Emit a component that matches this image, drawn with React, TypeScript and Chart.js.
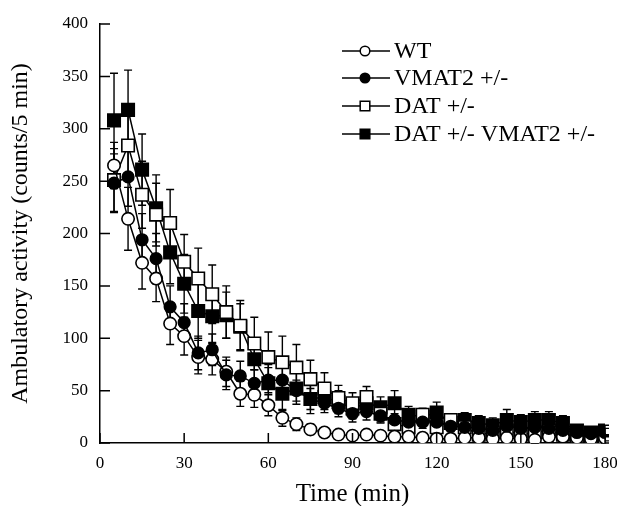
import React, { useEffect, useRef } from 'react';
import { Chart, registerables } from 'chart.js';

Chart.register(...registerables);

const TIMES = [5, 10, 15, 20, 25, 30, 35, 40, 45, 50, 55, 60, 65, 70, 75, 80, 85, 90,
  95, 100, 105, 110, 115, 120, 125, 130, 135, 140, 145, 150, 155, 160, 165, 170, 175, 180];

const WT = [265, 214, 172, 157, 114, 102, 82, 80, 68, 47, 46, 36, 24, 18, 13, 10, 8, 7,
  8, 7, 6, 6, 5, 4, 4, 5, 5, 4, 5, 4, 3, 6, 6, 5, 4, 5];
const WT_ERR = [22, 30, 25, 22, 20, 18, 16, 15, 14, 12, 12, 10, 8, 6, 5, 4, 3, 3,
  3, 3, 3, 3, 3, 3, 3, 3, 3, 3, 3, 3, 3, 3, 3, 3, 3, 3];

const VMAT2 = [248, 254, 194, 176, 130, 115, 86, 89, 65, 64, 57, 60, 60, 50, 42, 38, 33, 28,
  30, 26, 22, 20, 20, 20, 16, 15, 14, 12, 16, 14, 15, 14, 12, 10, 9, 10];
const VMAT2_ERR = [28, 28, 25, 24, 20, 18, 16, 15, 14, 14, 13, 12, 12, 10, 10, 9, 8, 8,
  8, 7, 6, 6, 6, 5, 5, 5, 5, 5, 5, 5, 5, 5, 5, 4, 4, 4];

const DAT = [251, 284, 237, 218, 210, 173, 157, 142, 125, 112, 95, 82, 77, 72, 61, 52, 43, 38,
  44, 28, 18, 15, 27, 15, 22, 15, 8, 10, 12, 8, 10, 12, 8, 6, 5, 4];
const DAT_ERR = [30, 32, 32, 30, 32, 26, 29, 28, 25, 24, 25, 24, 25, 22, 18, 15, 12, 10,
  10, 8, 6, 6, 6, 6, 6, 6, 5, 5, 5, 5, 5, 5, 5, 4, 4, 4];

const DAT_VMAT2 = [308, 318, 261, 224, 182, 152, 126, 121, 122, 111, 80, 57, 47, 52, 42, 44, 39, 33,
  38, 34, 38, 27, 25, 29, 19, 22, 19, 17, 22, 20, 22, 22, 19, 12, 10, 12];
const DAT_VMAT2_ERR = [45, 38, 34, 32, 30, 28, 26, 25, 22, 22, 20, 18, 16, 15, 14, 12, 11, 10,
  10, 10, 12, 8, 8, 10, 6, 7, 7, 7, 10, 7, 8, 8, 7, 5, 4, 5];

const SERIES_LABELS = ['WT', 'VMAT2 +/-', 'DAT +/-', 'DAT +/- VMAT2 +/-'];
const X_TICKS = [0, 30, 60, 90, 120, 150, 180];
const Y_TICKS = [0, 50, 100, 150, 200, 250, 300, 350, 400];
const X_TITLE = 'Time (min)';
const Y_TITLE = 'Ambulatory activity (counts/5 min)';

const FONT = "'Liberation Serif', 'Times New Roman', serif";

type Style = { pointStyle: string; radius: number; fill: string; legendRadius: number };
const STYLES: Style[] = [
  { pointStyle: 'circle', radius: 6.2, fill: '#ffffff', legendRadius: 4.8 },
  { pointStyle: 'circle', radius: 5.8, fill: '#000000', legendRadius: 4.8 },
  { pointStyle: 'rect', radius: 8.8, fill: '#ffffff', legendRadius: 6.8 },
  { pointStyle: 'rect', radius: 8.8, fill: '#000000', legendRadius: 6.8 },
];
const ORDERS = [1, 0, 2, 3];

const VALUES = [WT, VMAT2, DAT, DAT_VMAT2];
const ERRORS = [WT_ERR, VMAT2_ERR, DAT_ERR, DAT_VMAT2_ERR];

const errorBarPlugin = {
  id: 'errorBars',
  beforeDatasetsDraw(chart: any) {
    const { ctx, scales } = chart;
    const xs = scales.x;
    const ys = scales.y;
    ctx.save();
    ctx.strokeStyle = '#000';
    ctx.lineWidth = 1.4;
    VALUES.forEach((vals, si) => {
      const errs = ERRORS[si];
      vals.forEach((v, i) => {
        const px = xs.getPixelForValue(TIMES[i]);
        const top = ys.getPixelForValue(v + errs[i]);
        const bot = ys.getPixelForValue(Math.max(0, v - errs[i]));
        ctx.beginPath();
        ctx.moveTo(px, top);
        ctx.lineTo(px, bot);
        ctx.moveTo(px - 4, top);
        ctx.lineTo(px + 4, top);
        ctx.moveTo(px - 4, bot);
        ctx.lineTo(px + 4, bot);
        ctx.stroke();
      });
    });
    ctx.restore();
  },
};

const axisTicksPlugin = {
  id: 'inwardTicks',
  afterDraw(chart: any) {
    const { ctx, scales, chartArea } = chart;
    ctx.save();
    ctx.strokeStyle = '#000';
    ctx.lineWidth = 1.5;
    ctx.beginPath();
    X_TICKS.forEach((t) => {
      const px = scales.x.getPixelForValue(t);
      ctx.moveTo(px, chartArea.bottom);
      ctx.lineTo(px, chartArea.bottom - 10);
    });
    Y_TICKS.forEach((t) => {
      const py = scales.y.getPixelForValue(t);
      ctx.moveTo(chartArea.left, py);
      ctx.lineTo(chartArea.left + 10, py);
    });
    ctx.stroke();
    ctx.restore();
  },
};

function drawMarker(ctx: CanvasRenderingContext2D, style: string, r: number, x: number, y: number) {
  ctx.beginPath();
  if (style === 'circle') {
    ctx.arc(x, y, r, 0, Math.PI * 2);
  } else {
    const s = r * Math.SQRT1_2;
    ctx.rect(x - s, y - s, 2 * s, 2 * s);
  }
  ctx.fill();
  ctx.stroke();
}

const legendPlugin = {
  id: 'customLegend',
  afterDraw(chart: any) {
    const { ctx } = chart;
    const rows = [51, 78, 106, 134];
    ctx.save();
    SERIES_LABELS.forEach((label, i) => {
      const y = rows[i];
      ctx.strokeStyle = '#000';
      ctx.lineWidth = 1.5;
      ctx.beginPath();
      ctx.moveTo(342, y);
      ctx.lineTo(390, y);
      ctx.stroke();
      ctx.fillStyle = STYLES[i].fill;
      drawMarker(ctx, STYLES[i].pointStyle, STYLES[i].legendRadius, 365, y);
      ctx.fillStyle = '#000';
      ctx.font = `24px ${FONT}`;
      ctx.textAlign = 'left';
      ctx.textBaseline = 'middle';
      ctx.fillText(label, 394, y + 1);
    });
    ctx.restore();
  },
};

export default function App() {
  const canvasRef = useRef<HTMLCanvasElement | null>(null);

  useEffect(() => {
    document.body.style.margin = '0';
    const canvas = canvasRef.current;
    if (!canvas) return;
    const datasets = VALUES.map((vals, i) => ({
      label: SERIES_LABELS[i],
      data: vals.map((v, j) => ({ x: TIMES[j], y: v })),
      showLine: true,
      borderColor: '#000',
      borderWidth: 1.5,
      backgroundColor: STYLES[i].fill,
      pointBackgroundColor: STYLES[i].fill,
      pointBorderColor: '#000',
      pointBorderWidth: 1.6,
      pointStyle: STYLES[i].pointStyle,
      pointRadius: STYLES[i].radius,
      pointHoverRadius: STYLES[i].radius,
      tension: 0,
      fill: false,
      order: ORDERS[i],
    }));

    const chart = new Chart(canvas, {
      type: 'line',
      data: { datasets },
      options: {
        animation: false,
        responsive: false,
        devicePixelRatio: 1,
        layout: { padding: { top: 24, right: 12, bottom: 0, left: 0 } },
        plugins: {
          legend: { display: false },
          tooltip: { enabled: false },
        },
        scales: {
          x: {
            type: 'linear',
            min: 0,
            max: 180,
            afterBuildTicks: (scale: any) => {
              scale.ticks = X_TICKS.map((v) => ({ value: v }));
            },
            afterFit: (scale: any) => {
              scale.height = 63;
              scale.paddingRight = 0;
              scale.paddingLeft = 0;
            },
            grid: { display: false, drawTicks: false, tickLength: 0 },
            border: { display: true, color: '#000', width: 1.5 },
            ticks: {
              color: '#000',
              padding: 10,
              maxRotation: 0,
              autoSkip: false,
              font: { family: FONT, size: 17 },
            },
            title: {
              display: true,
              text: X_TITLE,
              color: '#000',
              font: { family: FONT, size: 25, lineHeight: 1 },
              padding: { top: 0, bottom: -1 },
            },
          },
          y: {
            type: 'linear',
            min: 0,
            max: 400,
            afterBuildTicks: (scale: any) => {
              scale.ticks = Y_TICKS.map((v) => ({ value: v }));
            },
            afterFit: (scale: any) => {
              scale.width = 100;
              scale.paddingTop = 0;
              scale.paddingBottom = 0;
            },
            grid: { display: false, drawTicks: false, tickLength: 0 },
            border: { display: true, color: '#000', width: 1.5 },
            ticks: {
              color: '#000',
              padding: 12,
              autoSkip: false,
              font: { family: FONT, size: 17 },
            },
            title: {
              display: true,
              text: Y_TITLE,
              color: '#000',
              font: { family: FONT, size: 24, lineHeight: 1 },
              padding: { top: 9, bottom: 0 },
            },
          },
        },
      },
      plugins: [errorBarPlugin, axisTicksPlugin, legendPlugin],
    } as any);

    return () => {
      chart.destroy();
    };
  }, []);

  return (
    <div style={{ width: 617, height: 506, background: '#fff' }}>
      <canvas ref={canvasRef} width={617} height={506} style={{ display: 'block', width: 617, height: 506 }} />
    </div>
  );
}
